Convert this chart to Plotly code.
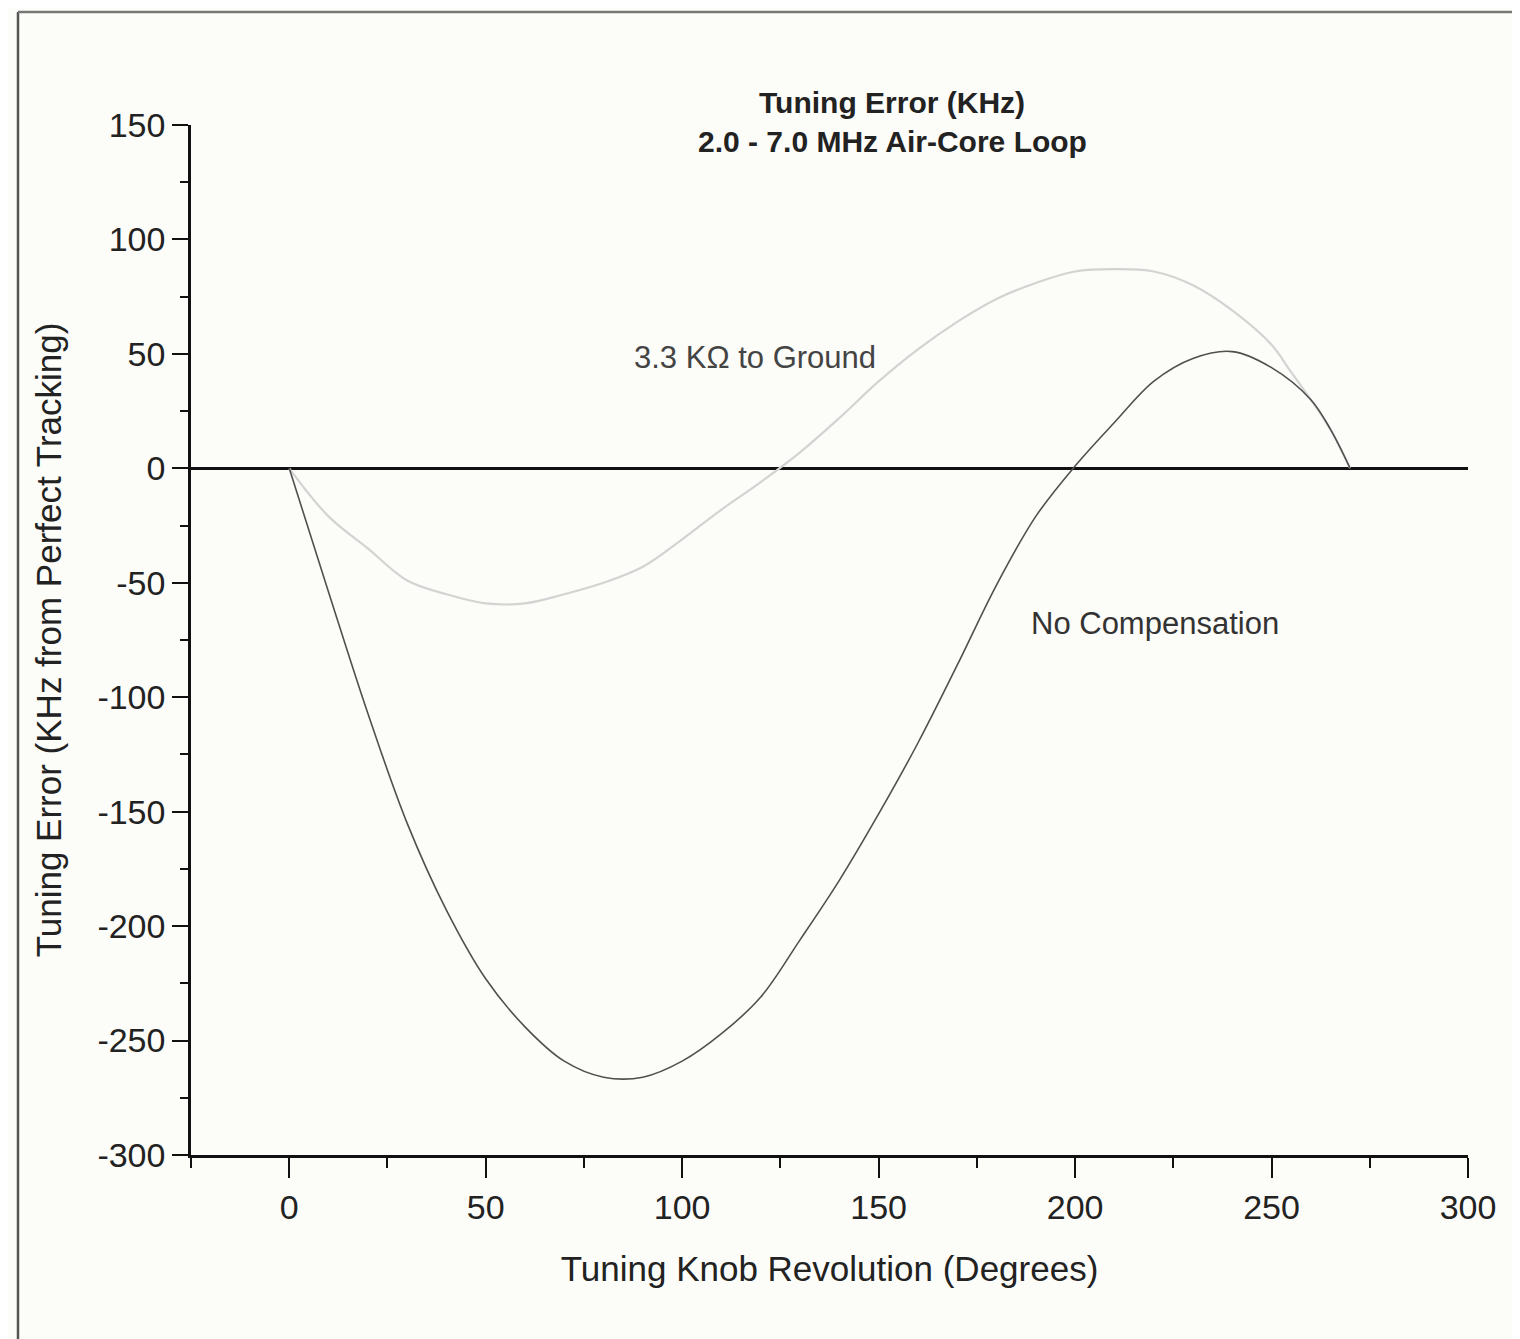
import plotly.graph_objects as go

# Data
x_none = [0, 10, 20, 30, 40, 50, 60, 70, 80, 90, 100, 110, 120, 130, 140, 150,
          160, 170, 180, 190, 200, 210, 220, 230, 240, 250, 260, 265, 270]
y_none = [0, -54, -107, -155, -193, -223, -244, -259, -266, -266, -259, -247, -231,
          -206, -180, -151, -120, -86, -51, -21, 1, 20, 38, 48, 51, 44, 30, 17, 0]

x_gnd = [0, 10, 20, 30, 40, 50, 60, 70, 80, 90, 100, 110, 120, 130, 140, 150, 160,
         170, 180, 190, 200, 210, 220, 230, 240, 250, 255, 260, 265, 270]
y_gnd = [0, -21, -35, -49, -55, -59, -59, -55, -50, -43, -31, -18, -6, 7, 22, 38, 52,
         64, 74, 81, 86, 87, 86, 80, 69, 54, 42, 30, 17, 0]

x_tickvals = [0, 50, 100, 150, 200, 250, 300]
x_ticktext = ["0", "50", "100", "150", "200", "250", "300"]
y_tickvals = [150, 100, 50, 0, -50, -100, -150, -200, -250, -300]
y_ticktext = ["150", "100", "50", "0", "-50", "-100", "-150", "-200", "-250", "-300"]

title_lines = ["Tuning Error (KHz)", "2.0 - 7.0 MHz Air-Core Loop"]
label_gnd = "3.3 K\u03a9 to Ground"
label_none = "No Compensation"

FONT = "Liberation Sans, Arial, sans-serif"
BG = "#fcfcf8"

fig = go.Figure()
fig.add_trace(go.Scatter(x=x_gnd, y=y_gnd, mode="lines",
                         line=dict(color="#d3d3d3", width=2.2, shape="spline", smoothing=1.0),
                         name=label_gnd, showlegend=False, hoverinfo="skip"))
fig.add_trace(go.Scatter(x=x_none, y=y_none, mode="lines",
                         line=dict(color="#505050", width=1.6, shape="spline", smoothing=1.0),
                         name=label_none, showlegend=False, hoverinfo="skip"))

# the page body has an 8px margin, so figure coordinates are page coordinates - 8
OFF = 8
W, H = 1520 - OFF, 1339 - OFF
L, T = 191 - OFF, 125 - OFF
R = W - (1468 - OFF)
B = H - (1155 - OFF)
pw, ph = W - L - R, H - T - B

def px_x(p):
    return (p - OFF - L) / pw

def px_y(p):
    return (H - B - (p - OFF)) / ph

fig.update_layout(
    width=W, height=H,
    margin=dict(l=L, r=R, t=T, b=B, pad=0),
    paper_bgcolor=BG, plot_bgcolor=BG,
    font=dict(family=FONT, color="#222222"),
    showlegend=False,
)

fig.update_xaxes(
    range=[-25, 300], showgrid=False, zeroline=False,
    showline=True, linecolor="#111111", linewidth=2.5,
    tickmode="array", tickvals=x_tickvals, ticktext=x_ticktext,
    ticks="outside", ticklen=20, tickwidth=2, tickcolor="#111111",
    tickfont=dict(size=34, color="#222222"),
    minor=dict(dtick=25, tick0=0, ticks="outside", ticklen=10, tickwidth=2,
               tickcolor="#111111", showgrid=False),
    title=dict(text="Tuning Knob Revolution (Degrees)", font=dict(size=35, color="#222222"), standoff=32),
)
fig.update_yaxes(
    range=[-300, 150], showgrid=False,
    zeroline=True, zerolinecolor="#111111", zerolinewidth=2.5,
    showline=True, linecolor="#111111", linewidth=2.5,
    tickmode="array", tickvals=y_tickvals, ticktext=y_ticktext,
    ticks="outside", ticklen=16, tickwidth=2, tickcolor="#111111",
    tickfont=dict(size=34, color="#222222"),
    minor=dict(dtick=25, tick0=0, ticks="outside", ticklen=8, tickwidth=2,
               tickcolor="#111111", showgrid=False),
    title=dict(text="Tuning Error (KHz from Perfect Tracking)", font=dict(size=35, color="#222222"), standoff=26),
)

# Title lines
fig.add_annotation(x=px_x(892), y=px_y(102), xref="paper", yref="paper",
                   text="<b>" + title_lines[0] + "</b>", showarrow=False,
                   font=dict(size=30, color="#222222"), xanchor="center", yanchor="middle")
fig.add_annotation(x=px_x(892), y=px_y(141), xref="paper", yref="paper",
                   text="<b>" + title_lines[1] + "</b>", showarrow=False,
                   font=dict(size=30, color="#222222"), xanchor="center", yanchor="middle")

# Curve labels
fig.add_annotation(x=118.6, y=48.5, xref="x", yref="y", text=label_gnd, showarrow=False,
                   font=dict(size=31, color="#444444"), xanchor="center", yanchor="middle")
fig.add_annotation(x=220.4, y=-67.7, xref="x", yref="y", text=label_none, showarrow=False,
                   font=dict(size=31, color="#333333"), xanchor="center", yanchor="middle")

# Scanned page frame (left and top edges)
fig.add_shape(type="line", xref="paper", yref="paper",
              x0=px_x(18), x1=px_x(18), y0=px_y(1345), y1=px_y(12),
              line=dict(color="#555555", width=2.5))
fig.add_shape(type="line", xref="paper", yref="paper",
              x0=px_x(18), x1=px_x(1530), y0=px_y(12), y1=px_y(12),
              line=dict(color="#777777", width=2.5))

fig.write_html("out.html")
